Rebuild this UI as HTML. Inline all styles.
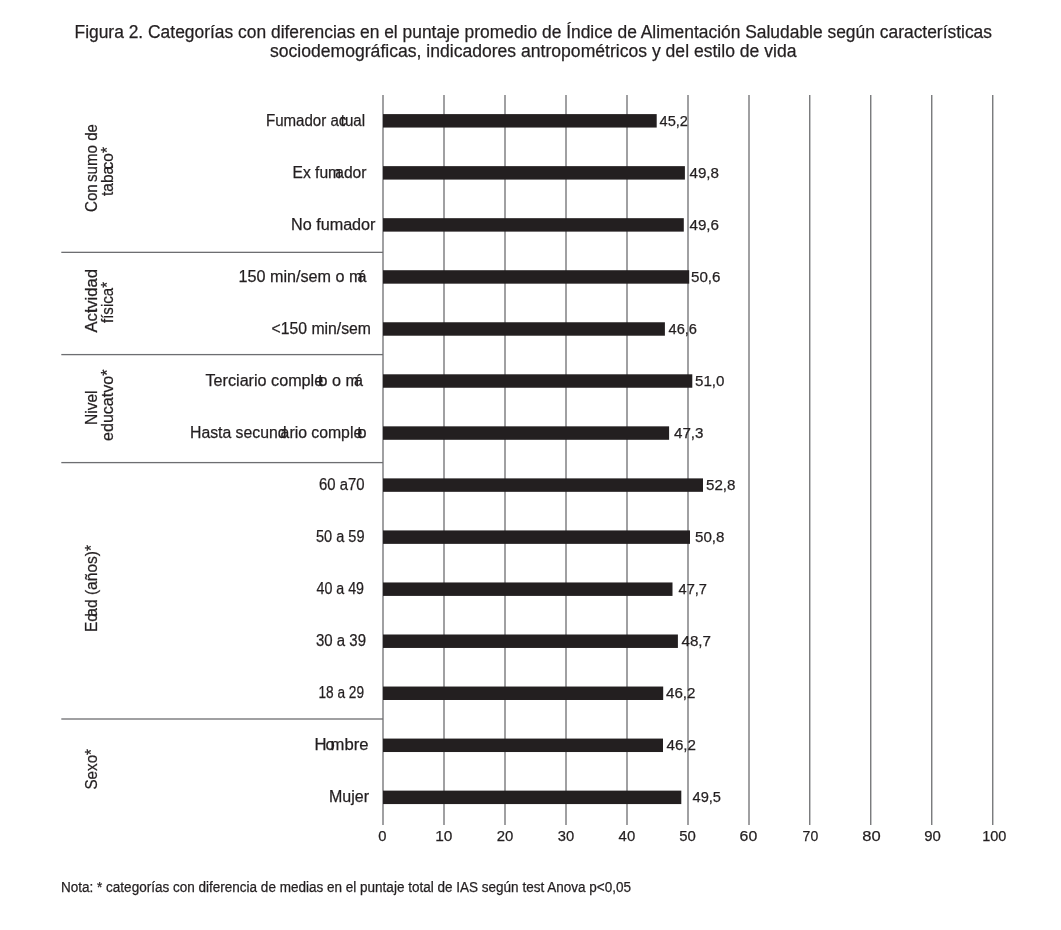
<!DOCTYPE html>
<html><head><meta charset="utf-8"><style>
html,body{margin:0;padding:0;background:#fff;width:1061px;height:930px;overflow:hidden}
svg{display:block;will-change:transform}
text{font-family:"Liberation Sans",sans-serif;fill:#231f20;stroke:#231f20;stroke-width:0.25px}
</style></head><body>
<svg width="1061" height="930" viewBox="0 0 1061 930">
<rect x="382.350" y="95" width="1.3" height="730" fill="#6d6e71"/>
<rect x="443.350" y="95" width="1.3" height="730" fill="#6d6e71"/>
<rect x="504.350" y="95" width="1.3" height="730" fill="#6d6e71"/>
<rect x="565.350" y="95" width="1.3" height="730" fill="#6d6e71"/>
<rect x="626.350" y="95" width="1.3" height="730" fill="#6d6e71"/>
<rect x="687.350" y="95" width="1.3" height="730" fill="#6d6e71"/>
<rect x="748.350" y="95" width="1.3" height="730" fill="#6d6e71"/>
<rect x="809.100" y="95" width="1.3" height="730" fill="#6d6e71"/>
<rect x="870.100" y="95" width="1.3" height="730" fill="#6d6e71"/>
<rect x="931.100" y="95" width="1.3" height="730" fill="#6d6e71"/>
<rect x="992.100" y="95" width="1.3" height="730" fill="#6d6e71"/>
<rect x="61.3" y="251.70" width="321.7" height="1.3" fill="#6d6e71"/>
<rect x="61.3" y="353.95" width="321.7" height="1.3" fill="#6d6e71"/>
<rect x="61.3" y="461.95" width="321.7" height="1.3" fill="#6d6e71"/>
<rect x="61.3" y="718.35" width="321.7" height="1.3" fill="#6d6e71"/>
<rect x="383" y="114.10" width="273.70" height="13.45" fill="#231f20"/>
<rect x="383" y="166.14" width="301.90" height="13.45" fill="#231f20"/>
<rect x="383" y="218.18" width="300.80" height="13.45" fill="#231f20"/>
<rect x="383" y="270.22" width="306.20" height="13.45" fill="#231f20"/>
<rect x="383" y="322.26" width="281.90" height="13.45" fill="#231f20"/>
<rect x="383" y="374.30" width="309.30" height="13.45" fill="#231f20"/>
<rect x="383" y="426.34" width="286.10" height="13.45" fill="#231f20"/>
<rect x="383" y="478.38" width="320.00" height="13.45" fill="#231f20"/>
<rect x="383" y="530.42" width="307.00" height="13.45" fill="#231f20"/>
<rect x="383" y="582.46" width="289.50" height="13.45" fill="#231f20"/>
<rect x="383" y="634.50" width="294.90" height="13.45" fill="#231f20"/>
<rect x="383" y="686.54" width="280.20" height="13.45" fill="#231f20"/>
<rect x="383" y="738.58" width="280.00" height="13.45" fill="#231f20"/>
<rect x="383" y="790.62" width="298.30" height="13.45" fill="#231f20"/>
<text x="74.50" y="37.80" font-size="18.00" textLength="917.50" lengthAdjust="spacingAndGlyphs">Figura 2. Categorías con diferencias en el puntaje promedio de Índice de Alimentación Saludable según características</text>
<text x="270.00" y="56.50" font-size="18.00" textLength="526.50" lengthAdjust="spacingAndGlyphs">sociodemográficas, indicadores antropométricos y del estilo de vida</text>
<text x="61.00" y="891.90" font-size="14.00" textLength="570.00" lengthAdjust="spacingAndGlyphs">Nota: * categorías con diferencia de medias en el puntaje total de IAS según test Anova p&lt;0,05</text>
<text x="266.00" y="125.80" font-size="16.00" textLength="99.00" lengthAdjust="spacingAndGlyphs">Fumador ac<tspan dx="-6">t</tspan>ual</text>
<text x="292.50" y="177.83" font-size="16.00" textLength="74.00" lengthAdjust="spacingAndGlyphs">Ex fum<tspan dx="-6">a</tspan>dor</text>
<text x="291.00" y="229.86" font-size="16.00" textLength="84.50" lengthAdjust="spacingAndGlyphs">No fumador</text>
<text x="238.50" y="281.89" font-size="16.00" textLength="128.00" lengthAdjust="spacingAndGlyphs">150 min/sem o m<tspan dx="-5">á</tspan></text>
<text x="271.50" y="333.92" font-size="16.00" textLength="99.50" lengthAdjust="spacingAndGlyphs">&lt;150 min/sem</text>
<text x="205.50" y="385.95" font-size="16.00" textLength="157.50" lengthAdjust="spacingAndGlyphs">Terciario comple<tspan dx="-5">t</tspan><tspan dx="-4">o</tspan> o m<tspan dx="-5">á</tspan></text>
<text x="190.00" y="437.98" font-size="16.00" textLength="176.50" lengthAdjust="spacingAndGlyphs">Hasta secund<tspan dx="-6">a</tspan>rio comple<tspan dx="-5">t</tspan><tspan dx="-4">o</tspan></text>
<text x="319.00" y="490.01" font-size="16.00" textLength="45.50" lengthAdjust="spacingAndGlyphs">60 a70</text>
<text x="316.00" y="542.04" font-size="16.00" textLength="48.50" lengthAdjust="spacingAndGlyphs">50 a 59</text>
<text x="316.50" y="594.07" font-size="16.00" textLength="47.50" lengthAdjust="spacingAndGlyphs">40 a 49</text>
<text x="316.00" y="646.10" font-size="16.00" textLength="50.00" lengthAdjust="spacingAndGlyphs">30 a 39</text>
<text x="318.50" y="698.13" font-size="16.00" textLength="45.50" lengthAdjust="spacingAndGlyphs">18 a 29</text>
<text x="314.50" y="750.16" font-size="16.00" textLength="54.00" lengthAdjust="spacingAndGlyphs">H<tspan dx="-1">o</tspan><tspan dx="-4">m</tspan>bre</text>
<text x="329.00" y="802.19" font-size="16.00" textLength="40.00" lengthAdjust="spacingAndGlyphs">Mujer</text>
<text x="659.50" y="125.80" font-size="15.50" textLength="28.50" lengthAdjust="spacingAndGlyphs">45,2</text>
<text x="689.50" y="177.83" font-size="15.50" textLength="29.50" lengthAdjust="spacingAndGlyphs">49,8</text>
<text x="689.50" y="229.86" font-size="15.50" textLength="29.50" lengthAdjust="spacingAndGlyphs">49,6</text>
<text x="691.00" y="281.89" font-size="15.50" textLength="29.50" lengthAdjust="spacingAndGlyphs">50,6</text>
<text x="668.50" y="333.92" font-size="15.50" textLength="28.50" lengthAdjust="spacingAndGlyphs">46,6</text>
<text x="695.00" y="385.95" font-size="15.50" textLength="29.50" lengthAdjust="spacingAndGlyphs">51,0</text>
<text x="674.00" y="437.98" font-size="15.50" textLength="29.50" lengthAdjust="spacingAndGlyphs">47,3</text>
<text x="706.00" y="490.01" font-size="15.50" textLength="29.50" lengthAdjust="spacingAndGlyphs">52,8</text>
<text x="695.00" y="542.04" font-size="15.50" textLength="29.50" lengthAdjust="spacingAndGlyphs">50,8</text>
<text x="678.50" y="594.07" font-size="15.50" textLength="28.50" lengthAdjust="spacingAndGlyphs">47,7</text>
<text x="681.50" y="646.10" font-size="15.50" textLength="29.50" lengthAdjust="spacingAndGlyphs">48,7</text>
<text x="666.00" y="698.13" font-size="15.50" textLength="29.50" lengthAdjust="spacingAndGlyphs">46,2</text>
<text x="666.50" y="750.16" font-size="15.50" textLength="29.50" lengthAdjust="spacingAndGlyphs">46,2</text>
<text x="692.50" y="802.19" font-size="15.50" textLength="28.50" lengthAdjust="spacingAndGlyphs">49,5</text>
<text x="378.20" y="840.80" font-size="15.50" textLength="8.20" lengthAdjust="spacingAndGlyphs">0</text>
<text x="435.20" y="840.80" font-size="15.50" textLength="17.20" lengthAdjust="spacingAndGlyphs">10</text>
<text x="496.80" y="840.80" font-size="15.50" textLength="16.60" lengthAdjust="spacingAndGlyphs">20</text>
<text x="557.80" y="840.80" font-size="15.50" textLength="16.40" lengthAdjust="spacingAndGlyphs">30</text>
<text x="618.60" y="840.80" font-size="15.50" textLength="16.60" lengthAdjust="spacingAndGlyphs">40</text>
<text x="679.20" y="840.80" font-size="15.50" textLength="16.60" lengthAdjust="spacingAndGlyphs">50</text>
<text x="739.60" y="840.80" font-size="15.50" textLength="17.60" lengthAdjust="spacingAndGlyphs">60</text>
<text x="802.60" y="840.80" font-size="15.50" textLength="15.60" lengthAdjust="spacingAndGlyphs">70</text>
<text x="862.20" y="840.80" font-size="15.50" textLength="18.40" lengthAdjust="spacingAndGlyphs">80</text>
<text x="924.20" y="840.80" font-size="15.50" textLength="16.60" lengthAdjust="spacingAndGlyphs">90</text>
<text x="982.20" y="840.80" font-size="15.50" textLength="24.20" lengthAdjust="spacingAndGlyphs">100</text>
<text transform="translate(97.40 212.00) rotate(-90)" x="0" y="0" font-size="17.00" textLength="88.00" lengthAdjust="spacingAndGlyphs">Con<tspan dx="2.5">sumo</tspan> de</text>
<text transform="translate(113.20 196.00) rotate(-90)" x="0" y="0" font-size="17.00" textLength="49.00" lengthAdjust="spacingAndGlyphs">taba<tspan dx="-4">c</tspan>o*</text>
<text transform="translate(97.10 332.50) rotate(-90)" x="0" y="0" font-size="17.00" textLength="63.50" lengthAdjust="spacingAndGlyphs">Act<tspan dx="-4">i</tspan>vidad</text>
<text transform="translate(113.00 323.00) rotate(-90)" x="0" y="0" font-size="17.00" textLength="41.00" lengthAdjust="spacingAndGlyphs">física*</text>
<text transform="translate(96.80 425.00) rotate(-90)" x="0" y="0" font-size="17.00" textLength="34.50" lengthAdjust="spacingAndGlyphs">Nivel</text>
<text transform="translate(113.00 441.00) rotate(-90)" x="0" y="0" font-size="17.00" textLength="71.50" lengthAdjust="spacingAndGlyphs">educatvo*</text>
<text transform="translate(97.40 632.00) rotate(-90)" x="0" y="0" font-size="17.00" textLength="87.00" lengthAdjust="spacingAndGlyphs">Ed<tspan dx="-4">a</tspan>d (años)*</text>
<text transform="translate(96.90 789.50) rotate(-90)" x="0" y="0" font-size="17.00" textLength="40.50" lengthAdjust="spacingAndGlyphs">Sexo*</text>
</svg>
</body></html>
